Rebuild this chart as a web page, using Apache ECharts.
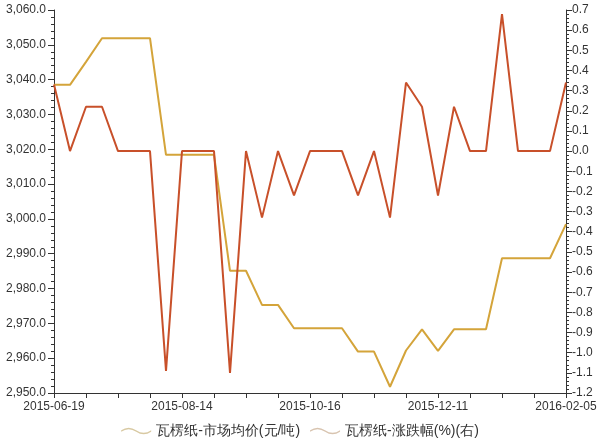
<!DOCTYPE html>
<html>
<head>
<meta charset="utf-8">
<script src="https://cdn.jsdelivr.net/npm/echarts@6/dist/echarts.min.js"></script>
<style>html,body{margin:0;padding:0;background:#fff}#c{width:600px;height:445px}</style>
</head>
<body>
<div id="c"></div>
<script>
const dates = ['2015-06-19','2015-06-26','2015-07-03','2015-07-10','2015-07-17','2015-07-24','2015-07-31','2015-08-07',
  '2015-08-14','2015-08-21','2015-08-28','2015-09-04','2015-09-11','2015-09-18','2015-09-25','2015-10-09',
  '2015-10-16','2015-10-23','2015-10-30','2015-11-06','2015-11-13','2015-11-20','2015-11-27','2015-12-04',
  '2015-12-11','2015-12-18','2015-12-25','2016-01-01','2016-01-08','2016-01-15','2016-01-22','2016-01-29','2016-02-05'];
const priceName = '瓦楞纸-市场均价(元/吨)';
const changeName = '瓦楞纸-涨跌幅(%)(右)';
const price = [3038.5,3038.5,3045.1,3051.9,3051.9,3051.9,3051.9,3018.4,
  3018.4,3018.4,3018.4,2985.1,2985.1,2975.3,2975.3,2968.6,
  2968.6,2968.6,2968.6,2961.9,2961.9,2951.8,2962.2,2968.3,
  2962.1,2968.3,2968.3,2968.3,2988.7,2988.7,2988.7,2988.7,2998.5];
const change = [0.33,0,0.22,0.22,0,0,0,-1.09,
  0,0,0,-1.1,0,-0.33,0,-0.22,
  0,0,0,-0.22,0,-0.33,0.34,0.22,
  -0.22,0.22,0,0,0.68,0,0,0,0.34];
const leftTicks = {min:2950, max:3060, interval:10};
const rightTicks = {min:-1.2, max:0.7, interval:0.1};

const wave = 'path://M0,5 Q7.5,0 15,5 T30,5 L30,6.6 Q22.5,11.6 15,6.6 Q7.5,1.6 0,6.6 Z';
const fmtLeft = v => v.toFixed(1).replace(/\B(?=(\d{3})+(?!\d))/g, ',');
const axisLine = {show:true, onZero:false, lineStyle:{color:'#333', width:1}};
const lbl = {color:'#333', fontSize:12, fontFamily:'Liberation Sans, Arial, sans-serif'};

const chart = echarts.init(document.getElementById('c'));
chart.setOption({
  animation:false,
  grid:{left:54, right:34, top:10, bottom:52},
  legend:{
    bottom:2, left:'center', itemGap:10, itemWidth:30, itemHeight:9,
    textStyle:{color:'#333', fontSize:14, fontFamily:'Liberation Sans, Arial, sans-serif'},
    data:[
      {name:priceName, icon:wave, itemStyle:{color:'#d8c9a2'}},
      {name:changeName, icon:wave, itemStyle:{color:'#d8c4b0'}}
    ]
  },
  xAxis:{
    type:'category', data:dates, boundaryGap:false,
    axisLine:axisLine,
    axisTick:{show:true, interval:1, length:5, lineStyle:{color:'#333'}},
    axisLabel:Object.assign({interval:7, margin:8}, lbl),
    splitLine:{show:false}
  },
  yAxis:[
    {type:'value', min:leftTicks.min, max:leftTicks.max, interval:leftTicks.interval,
     axisLine:axisLine,
     axisTick:{show:true, length:6, lineStyle:{color:'#333'}},
     minorTick:{show:true, splitNumber:5, length:3, lineStyle:{color:'#333'}},
     axisLabel:Object.assign({formatter:fmtLeft, margin:8}, lbl),
     splitLine:{show:false}},
    {type:'value', min:rightTicks.min, max:rightTicks.max, interval:rightTicks.interval, position:'right',
     axisLine:axisLine,
     axisTick:{show:true, length:6, lineStyle:{color:'#333'}},
     minorTick:{show:true, splitNumber:5, length:3, lineStyle:{color:'#333'}},
     axisLabel:Object.assign({formatter:v=>v.toFixed(1), margin:6}, lbl),
     splitLine:{show:false}}
  ],
  series:[
    {name:priceName, type:'line', data:price, yAxisIndex:0, showSymbol:false, symbol:'none',
     lineStyle:{color:'#d4a43a', width:2}, itemStyle:{color:'#d4a43a'}},
    {name:changeName, type:'line', data:change, yAxisIndex:1, showSymbol:false, symbol:'none',
     lineStyle:{color:'#c8502a', width:2}, itemStyle:{color:'#c8502a'}}
  ]
});
</script>
</body>
</html>
